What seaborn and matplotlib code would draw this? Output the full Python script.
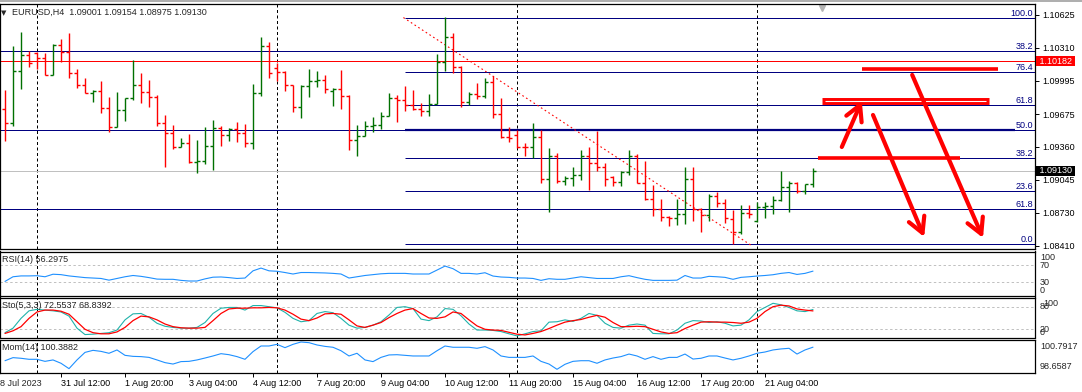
import numpy as np
import pandas as pd
import matplotlib
matplotlib.use("Agg")
import matplotlib.pyplot as plt
import seaborn as sns

# EURUSD H4 bars, 28 Jul 2023 08:00 -> 22 Aug 04:00
opens = [1.09721, 1.09586, 1.10088, 1.10241, 1.10263, 1.10210, 1.10047, 1.10337, 1.10267, 1.10066,
         1.09951, 1.09874, 1.09893, 1.09736, 1.09554, 1.09714, 1.09826, 1.09954, 1.09887, 1.09836,
         1.09586, 1.09496, 1.09362, 1.09395, 1.09218, 1.09228, 1.09369, 1.09538, 1.09471, 1.09529,
         1.09496, 1.09395, 1.09880, 1.10328, 1.10120, 1.10081, 1.09951, 1.09740, 1.09944, 1.09995,
         1.09999, 1.09900, 1.09912, 1.09848, 1.09426, 1.09467, 1.09561, 1.09570, 1.09656, 1.09826,
         1.09810, 1.09762, 1.09726, 1.09704, 1.09774, 1.10171, 1.10411, 1.10123, 1.09791, 1.09867,
         1.09848, 1.09982, 1.09673, 1.09452, 1.09471, 1.09362, 1.09356, 1.09452, 1.09049, 1.09273,
         1.09030, 1.09059, 1.09091, 1.09276, 1.09209, 1.09170, 1.09069, 1.09023, 1.09122, 1.09276,
         1.09011, 1.08858, 1.08767, 1.08685, 1.08675, 1.08717, 1.09049, 1.08765, 1.08704, 1.08892,
         1.08819, 1.08665, 1.08547, 1.08729, 1.08649, 1.08787, 1.08795, 1.08851, 1.08973, 1.09011,
         1.08937, 1.09001]
highs = [1.09906, 1.10328, 1.10459, 1.10283, 1.10273, 1.10263, 1.10347, 1.10398, 1.10450, 1.10104,
         1.10018, 1.09903, 1.09992, 1.09836, 1.09889, 1.09832, 1.10193, 1.10072, 1.10002, 1.09858,
         1.09666, 1.09570, 1.09443, 1.09484, 1.09426, 1.09548, 1.09618, 1.09561, 1.09538, 1.09602,
         1.09580, 1.09963, 1.10411, 1.10369, 1.10162, 1.10088, 1.09954, 1.09951, 1.10104, 1.10088,
         1.10050, 1.09920, 1.10098, 1.09855, 1.09570, 1.09608, 1.09647, 1.09695, 1.09877, 1.09858,
         1.09944, 1.09906, 1.09778, 1.09867, 1.10251, 1.10603, 1.10450, 1.10136, 1.09887, 1.09976,
         1.10018, 1.10040, 1.09832, 1.09548, 1.09522, 1.09400, 1.09586, 1.09522, 1.09352, 1.09299,
         1.09081, 1.09164, 1.09330, 1.09362, 1.09515, 1.09209, 1.09081, 1.09129, 1.09330, 1.09292,
         1.09225, 1.08995, 1.08860, 1.08697, 1.08860, 1.09170, 1.09170, 1.08777, 1.08908, 1.08930,
         1.08858, 1.08755, 1.08803, 1.08803, 1.08829, 1.08835, 1.08889, 1.09129, 1.09033, 1.09021,
         1.09004, 1.09154]
lows = [1.09420, 1.09561, 1.09918, 1.10123, 1.10104, 1.10047, 1.10047, 1.10177, 1.10024, 1.09922,
        1.09874, 1.09794, 1.09688, 1.09506, 1.09548, 1.09611, 1.09810, 1.09784, 1.09746, 1.09561,
        1.09164, 1.09337, 1.09356, 1.09209, 1.09113, 1.09196, 1.09139, 1.09369, 1.09420, 1.09410,
        1.09362, 1.09337, 1.09848, 1.10024, 1.09992, 1.09899, 1.09698, 1.09640, 1.09841, 1.09937,
        1.09880, 1.09755, 1.09724, 1.09330, 1.09276, 1.09460, 1.09503, 1.09535, 1.09654, 1.09602,
        1.09707, 1.09714, 1.09656, 1.09656, 1.09771, 1.10088, 1.10066, 1.09746, 1.09759, 1.09822,
        1.09832, 1.09640, 1.09443, 1.09410, 1.09347, 1.09276, 1.09251, 1.09011, 1.08739, 1.09017,
        1.08998, 1.08985, 1.09043, 1.08947, 1.09132, 1.08981, 1.08981, 1.08981, 1.09091, 1.09011,
        1.08851, 1.08697, 1.08652, 1.08602, 1.08611, 1.08621, 1.08652, 1.08547, 1.08652, 1.08787,
        1.08627, 1.08429, 1.08525, 1.08675, 1.08643, 1.08681, 1.08714, 1.08844, 1.08739, 1.08915,
        1.08905, 1.08975]
closes = [1.09586, 1.10088, 1.10241, 1.10162, 1.10210, 1.10047, 1.10337, 1.10267, 1.10066, 1.09951,
          1.09874, 1.09893, 1.09736, 1.09554, 1.09714, 1.09826, 1.09954, 1.09887, 1.09836, 1.09586,
          1.09496, 1.09362, 1.09395, 1.09218, 1.09228, 1.09369, 1.09538, 1.09471, 1.09529, 1.09496,
          1.09395, 1.09880, 1.10328, 1.10066, 1.10081, 1.09951, 1.09740, 1.09944, 1.09995, 1.09999,
          1.09912, 1.09912, 1.09848, 1.09426, 1.09467, 1.09561, 1.09570, 1.09656, 1.09826, 1.09810,
          1.09762, 1.09726, 1.09704, 1.09774, 1.10171, 1.10411, 1.10123, 1.09791, 1.09867, 1.09848,
          1.09982, 1.09673, 1.09452, 1.09445, 1.09362, 1.09356, 1.09452, 1.09049, 1.09273, 1.09036,
          1.09059, 1.09091, 1.09276, 1.09209, 1.09170, 1.09049, 1.09023, 1.09122, 1.09276, 1.09011,
          1.08858, 1.08767, 1.08685, 1.08675, 1.08717, 1.09049, 1.08765, 1.08704, 1.08892, 1.08819,
          1.08675, 1.08547, 1.08729, 1.08717, 1.08787, 1.08795, 1.08851, 1.08973, 1.09011, 1.08937,
          1.09001, 1.09130]

rsi_vals = [32, 43, 45, 45, 45.5, 43, 49, 48, 45, 43,
            41, 40, 39, 35, 39, 43, 46, 44, 41, 37.5,
            37, 37, 34.5, 33, 33, 38, 42, 42.5, 41, 39,
            40, 57, 63.5, 57, 56, 53, 49.5, 53, 53, 52.5,
            52, 51, 49.5, 40, 43, 46, 48, 50, 51, 51,
            51, 49.5, 49.5, 49.5, 58.8, 68.2, 62, 51, 51, 49.5,
            52.5, 44.7, 42.4, 41.6, 40, 40, 39, 34.5, 38.4, 37,
            37, 40, 43, 41, 39, 39, 39, 43, 45.5, 41,
            37, 34.5, 34.5, 34.5, 35, 46, 40, 40, 44, 43,
            41.6, 37, 41.6, 43, 44.7, 46, 47.8, 51, 53, 48.5,
            51, 56.2975]
sto_main = [11, 23, 49, 69, 73, 71, 69, 66, 55, 23,
            6, 7, 9, 11, 18, 45, 61, 62, 52, 36,
            28, 25, 23, 23, 25, 38, 62, 76, 78, 78,
            71, 83, 83, 80, 77, 65, 49, 40, 43, 62,
            67, 64, 49, 31, 23, 25, 31, 40, 58, 78,
            80, 75, 47, 43, 53, 75, 73, 56, 34, 18,
            18, 17, 14, 8, 2.5, 8, 14, 16, 39, 40,
            45, 41, 49, 62, 57, 36, 25, 23, 31, 34,
            31, 9, 8, 8, 18, 36, 43, 42, 38, 40,
            36, 29, 31, 45, 67, 78, 89, 85, 78, 69,
            67, 72.5537]
sto_signal = [9, 16, 27, 49, 66, 71, 71, 68, 60, 40,
              20, 11, 8, 8, 13, 25, 43, 55, 53, 45,
              34, 27, 24, 23, 23, 25, 43, 62, 74, 76,
              76, 77, 77, 78, 77, 71, 60, 47, 43, 50,
              61, 62, 60, 45, 29, 25, 31, 38, 51, 62,
              71, 75, 62, 50, 49, 53, 66, 62, 45, 29,
              20, 18, 17, 12, 7, 5, 9, 14, 22, 31,
              39, 43, 46, 52, 57, 52, 38, 27, 27, 28,
              27, 20, 13, 9, 11, 22, 31, 39, 40, 39,
              39, 38, 36, 39, 49, 67, 80, 84, 82, 74,
              71, 68.8392]
mom_vals = [99.33, 99.57, 99.52, 99.44, 99.44, 99.28, 99.39, 99.13, 98.71, 99.39,
            99.98, 100.14, 100.06, 99.91, 100.17, 99.75, 99.67, 99.65, 99.59, 99.39,
            99.18, 99.07, 99.26, 99.28, 99.39, 99.54, 99.70, 99.88, 99.80, 99.65,
            99.44, 100.04, 100.48, 100.48, 100.61, 100.35, 100.61, 100.7917, 100.74, 100.56,
            100.45, 100.38, 100.11, 99.70, 99.91, 99.39, 99.26, 99.59, 99.78, 99.80,
            99.75, 99.70, 99.70, 99.70, 100.11, 100.48, 100.38, 100.38, 100.38, 100.30,
            100.43, 100.17, 99.70, 99.59, 99.59, 99.59, 99.70, 99.28, 99.07, 98.6587,
            99.05, 99.28, 99.33, 99.33, 99.13, 99.39, 99.54, 99.65, 99.85, 99.70,
            99.44, 99.65, 99.44, 99.59, 99.59, 99.85, 99.46, 99.52, 99.70, 99.70,
            99.54, 99.39, 99.52, 99.70, 99.91, 100.01, 100.17, 100.25, 100.30, 99.85,
            100.17, 100.3882]

time_ticks = [-1, 7, 15, 23, 31, 39, 47, 55, 63, 71, 79, 87, 95]
time_labels = ['28 Jul 2023', '31 Jul 12:00', '1 Aug 20:00', '3 Aug 04:00', '4 Aug 12:00',
               '7 Aug 20:00', '9 Aug 04:00', '10 Aug 12:00', '11 Aug 20:00', '15 Aug 04:00',
               '16 Aug 12:00', '17 Aug 20:00', '21 Aug 04:00']
week_starts = [4, 34, 64, 94]
price_ticks = [1.10625, 1.10310, 1.09995, 1.09675, 1.09360, 1.09045, 1.08730, 1.08410]

# fibo retracement drawn from bar 50
fib_labels = ['100.0', '76.4', '61.8', '50.0', '38.2', '23.6', '0.0']
fib_prices = [1.10595, 1.10075, 1.09762, 1.09518, 1.09254, 1.08937, 1.08429]
fib_start = 50
fib_anchor_bars = [49.8, 93.3]
fib_anchor_prices = [1.10600, 1.08415]
# full width levels
level_labels = ['38.2', '61.8']
level_prices = [1.10275, 1.08765]
mid_level = 1.09518
red_level = 1.10182

# hand drawn markup
mark_from = [107.1, 101.6]
mark_to = [124.1, 119.4]
mark_prices = [1.10104, 1.09251]
box_from, box_to, box_price = 102.1, 123.0, 1.09800
arrow_from_bar = [104.6, 108.5, 113.4]
arrow_from_price = [1.09359, 1.09666, 1.10050]
arrow_to_bar = [107.1, 114.9, 122.25]
arrow_to_price = [1.09800, 1.08496, 1.08487]
shift_bar = 102.1

rsi_levels = [70, 30]
sto_levels = [80, 20]

bars = pd.DataFrame({'open': opens, 'high': highs, 'low': lows, 'close': closes})
bars['bar'] = np.arange(len(bars))
bars['color'] = np.where(bars['close'] > bars['open'], '#007000', '#ff0000')
ind = pd.DataFrame({'bar': bars['bar'], 'rsi': rsi_vals, 'main': sto_main,
                    'signal': sto_signal, 'mom': mom_vals})

sns.set_style('white')
plt.rcParams['font.family'] = ['Liberation Sans', 'DejaVu Sans']
FS = 6.5
NAVY = '#000080'
PX = 0.72   # one pixel at 100 dpi

W, H = 1082, 392
fig = plt.figure(figsize=(W / 100, H / 100), dpi=100)
fig.patch.set_facecolor('white')


def panel(top, bottom):
    a = fig.add_axes([0, 1 - bottom / H, 1035 / W, (bottom - top) / H])
    a.set_facecolor('white')
    for s in a.spines.values():
        s.set_color('black')
        s.set_linewidth(0.9)
    a.set_xlim(-0.625, 128.75)
    a.set_xticks([])
    a.set_yticks([])
    for b in week_starts:
        a.axvline(b, color='black', lw=PX, dashes=(3, 2.5), snap=True, zorder=1)
    return a


ax = panel(4, 249)
ax_rsi = panel(251.5, 295.5)
ax_sto = panel(297.5, 337.5)
ax_mom = panel(339.5, 372.5)

# ---- main chart ----
ax.set_ylim(1.08381, 1.10730)
for p in level_prices + [mid_level]:
    ax.axhline(p, color=NAVY, lw=PX, snap=True, zorder=1)
ax.axhline(red_level, color='red', lw=PX, snap=True, zorder=1)
ax.axhline(closes[-1], color='#c0c0c0', lw=PX, snap=True, zorder=1)
ax.hlines(fib_prices, fib_start, 128.75, color=NAVY, lw=PX, snap=True, zorder=1)
ax.hlines(fib_prices[fib_labels.index('50.0')], fib_start, 126.25, color=NAVY, lw=1.6,
          snap=True, zorder=1)
ax.plot(fib_anchor_bars, fib_anchor_prices, color='red', lw=0.8, dashes=(1.5, 2.5), zorder=2)

ax.vlines(bars['bar'], bars['low'], bars['high'], colors=bars['color'], lw=1.0, snap=True, zorder=3)
ax.hlines(bars['open'], bars['bar'] - 0.375, bars['bar'], colors=bars['color'], lw=1.0,
          snap=True, zorder=3)
ax.hlines(bars['close'], bars['bar'], bars['bar'] + 0.375, colors=bars['color'], lw=1.0,
          snap=True, zorder=3)

for lbl, p in list(zip(fib_labels, fib_prices)) + list(zip(level_labels, level_prices)):
    ax.annotate(lbl, xy=(1, p), xycoords=('axes fraction', 'data'), xytext=(-2, 0),
                textcoords='offset pixels', ha='right', va='bottom', color=NAVY, fontsize=FS)

# markup
ax.hlines(mark_prices, mark_from, mark_to, color='red', lw=2.6, zorder=5)
ax.hlines(box_price, box_from, box_to, color='red', lw=5, zorder=5)
ax.hlines(box_price, box_from + 0.4, box_to - 0.4, color='white', lw=0.8, zorder=6)
for x0, y0, x1, y1 in zip(arrow_from_bar, arrow_from_price, arrow_to_bar, arrow_to_price):
    ax.annotate('', xy=(x1, y1), xytext=(x0, y0),
                arrowprops=dict(arrowstyle='->,head_length=0.55,head_width=0.3', color='red',
                                lw=3, shrinkA=0, shrinkB=0, mutation_scale=20), zorder=6)

ax.plot([shift_bar], [0.985], marker='v', color='#b4b4b4', ms=5, transform=ax.get_xaxis_transform(),
        clip_on=False)

ax.yaxis.tick_right()
ax.set_yticks(price_ticks)
ax.set_yticklabels([f'{p:.5f}' for p in price_ticks])
ax.tick_params(axis='y', length=3, width=0.7, pad=2, labelsize=FS, colors='black')

for p, fc in [(red_level, 'red'), (closes[-1], 'black')]:
    ax.annotate(f' {p:.5f} ', xy=(1, p), xycoords=('axes fraction', 'data'), xytext=(2, 0),
                textcoords='offset pixels', ha='left', va='center', color='white', fontsize=FS,
                bbox=dict(boxstyle='square,pad=0.08', fc=fc, ec='none'), annotation_clip=False, zorder=10)

ax.annotate('\u25bc', xy=(0, 1), xycoords='axes fraction', xytext=(1, -6), textcoords='offset pixels',
            ha='left', va='top', fontsize=5, family=['DejaVu Sans'])
ax.annotate(f'EURUSD,H4  {opens[-1]:.5f} {highs[-1]:.5f} {lows[-1]:.5f} {closes[-1]:.5f}',
            xy=(0, 1), xycoords='axes fraction', xytext=(12, -4), textcoords='offset pixels',
            ha='left', va='top', fontsize=FS)

# ---- RSI ----
ax_rsi.set_ylim(-1.2, 102.6)
for lv in rsi_levels:
    ax_rsi.axhline(lv, color='#c0c0c0', lw=0.7, dashes=(2.5, 2.5))
sns.lineplot(data=ind, x='bar', y='rsi', ax=ax_rsi, color='#1e90ff', lw=0.8)
ax_rsi.annotate(f'RSI(14) {rsi_vals[-1]:.4f}', xy=(0, 1), xycoords='axes fraction', xytext=(2, -4),
                textcoords='offset pixels', ha='left', va='top', fontsize=FS)
for v, va in [(100, 'top'), (70, 'center'), (30, 'center'), (0, 'bottom')]:
    ax_rsi.annotate(str(v), xy=(1, v), xycoords=('axes fraction', 'data'), xytext=(5, 0),
                    textcoords='offset pixels', ha='left', va=va, fontsize=FS, annotation_clip=False)

# ---- Stochastic ----
ax_sto.set_ylim(-1.8, 104.4)
for lv in sto_levels:
    ax_sto.axhline(lv, color='#c0c0c0', lw=0.7, dashes=(2.5, 2.5))
sns.lineplot(data=ind, x='bar', y='main', ax=ax_sto, color='#20b2aa', lw=0.8)
sns.lineplot(data=ind, x='bar', y='signal', ax=ax_sto, color='#ff0000', lw=0.9)
ax_sto.annotate(f'Sto(5,3,3) {sto_main[-1]:.4f} {sto_signal[-1]:.4f}', xy=(0, 1), xycoords='axes fraction',
                xytext=(2, -4), textcoords='offset pixels', ha='left', va='top', fontsize=FS)
for v, va, dx in [(100, 'top', 8), (80, 'center', 5), (20, 'center', 5), (0, 'bottom', 5)]:
    ax_sto.annotate(str(v), xy=(1, v), xycoords=('axes fraction', 'data'), xytext=(dx, 0),
                    textcoords='offset pixels', ha='left', va=va, fontsize=FS, annotation_clip=False)

# ---- Momentum ----
ax_mom.set_ylim(98.409, 100.987)
sns.lineplot(data=ind, x='bar', y='mom', ax=ax_mom, color='#1e90ff', lw=0.8)
ax_mom.annotate(f'Mom(14) {mom_vals[-1]:.4f}', xy=(0, 1), xycoords='axes fraction', xytext=(2, -4),
                textcoords='offset pixels', ha='left', va='top', fontsize=FS)
ax_mom.annotate(f'{max(mom_vals):.4f}', xy=(1, max(mom_vals)), xycoords=('axes fraction', 'data'),
                xytext=(5, 0), textcoords='offset pixels', ha='left', va='top', fontsize=FS,
                annotation_clip=False)
ax_mom.annotate(f'{min(mom_vals):.4f}', xy=(1, min(mom_vals)), xycoords=('axes fraction', 'data'),
                xytext=(5, 0), textcoords='offset pixels', ha='left', va='baseline', fontsize=FS,
                annotation_clip=False)
ax_mom.set_xticks(time_ticks[1:])
ax_mom.set_xticklabels(time_labels[1:], ha='left')
ax_mom.tick_params(axis='x', bottom=True, direction='out', length=3, width=0.7, pad=1.5,
                   labelsize=FS, colors='black')
# first date label sits left of the visible range, like the terminal draws it
ax_mom.annotate(time_labels[0], xy=(time_ticks[0], 0), xycoords=('data', 'axes fraction'),
                xytext=(-2, -6.2), textcoords='offset pixels', ha='left', va='top', fontsize=FS,
                annotation_clip=False)

for a in (ax, ax_rsi, ax_sto, ax_mom):
    a.set_xlabel('')
    a.set_ylabel('')
    a.set_xlim(-0.625, 128.75)

fig.add_artist(plt.Line2D([0, 1], [1 - 0.6 / H, 1 - 0.6 / H], transform=fig.transFigure,
                          color='#a0a0a0', lw=1.2))

fig.savefig('out.png', dpi=100, facecolor='white')
